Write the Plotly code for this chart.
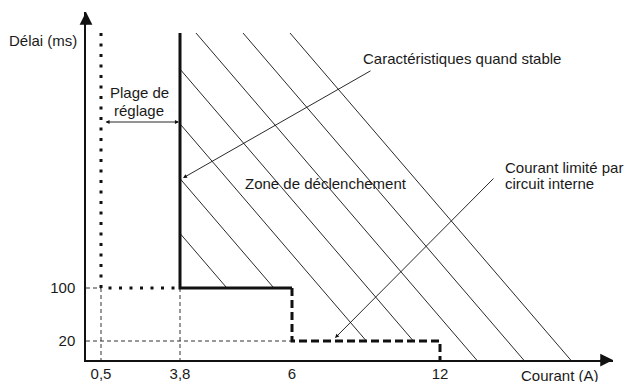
import numpy as np
import plotly.graph_objects as go

# ---------------- data (schematic values) ----------------
current_ticks = [0.5, 3.8, 6, 12]
current_labels = ["0,5", "3,8", "6", "12"]
delay_ticks = [20, 100]
delay_labels = ["20", "100"]

setting_min = 0.5        # bottom of "plage de réglage"
setting_current = 3.8    # current setting
limit_current = 6        # start of current limitation
limit_max_current = 12   # end of limited zone
trip_delay = 100         # ms
limit_delay = 20         # ms
delay_top = 1000         # schematic "long" delay (top of curves)

# ---------------- schematic (non-linear) scales ----------------
W, H = 624, 382
L, R, T, B = 86, 613, 12, 360   # plot area in pixels
X_DOM = [0, 0.5, 3.8, 6, 12, 20]
X_PIX = [86, 101, 180, 292, 440, 613]
Y_DOM = [0, 20, 100, 1000]
Y_PIX = [360, 341, 288, 33]


def sx(v):
    return float(np.interp(v, X_DOM, X_PIX))


def sy(v):
    return float(np.interp(v, Y_DOM, Y_PIX))


def fx(px):
    return (px - L) / (R - L)


def fy(py):
    return (B - py) / (B - T)


fig = go.Figure()

# ---------------- hatching of the trip zone ----------------
hatch_spacing = 47
hatch_slope = 1.165
hatch_first = 8
hatch_count = 7
top_y = sy(delay_top)
floor = [(sx(setting_current), sx(limit_current), sy(trip_delay)),
         (sx(limit_current), sx(limit_max_current), sy(limit_delay)),
         (sx(limit_max_current), 1e9, sy(0))]
hx, hy = [], []
for k in range(hatch_count):
    x0 = hatch_first + k * hatch_spacing
    xs = max(x0, sx(setting_current))
    ys = top_y + (xs - x0) * hatch_slope
    xe = ye = None
    for xa, xb, yf in floor:
        xh = x0 + (yf - top_y) / hatch_slope
        if xa <= xh < xb and xh >= xs:
            xe, ye = xh, yf
            break
    hx += [xs, xe, None]
    hy += [ys, ye, None]
fig.add_trace(go.Scatter(x=hx, y=hy, mode="lines",
                         line=dict(color="#111", width=0.9), hoverinfo="skip"))

# ---------------- thin dashed guides ----------------
gx = [sx(setting_min), sx(setting_min), None,
      sx(setting_current), sx(setting_current), None,
      sx(0), sx(setting_min), None,
      sx(0), sx(limit_current)]
gy = [sy(trip_delay), sy(0), None,
      sy(trip_delay), sy(0), None,
      sy(trip_delay), sy(trip_delay), None,
      sy(limit_delay), sy(limit_delay)]
fig.add_trace(go.Scatter(x=gx, y=gy, mode="lines",
                         line=dict(color="#333", width=1, dash="4px,3px"), hoverinfo="skip"))

# ---------------- dotted setting range ----------------
fig.add_trace(go.Scatter(
    x=[sx(setting_min), sx(setting_min), sx(setting_current)],
    y=[sy(delay_top), sy(trip_delay), sy(trip_delay)],
    mode="lines", line=dict(color="#111", width=3, dash="3px,7.5px"), hoverinfo="skip"))

# ---------------- stable characteristic (thick solid) ----------------
fig.add_trace(go.Scatter(
    x=[sx(setting_current), sx(setting_current), sx(limit_current)],
    y=[sy(delay_top), sy(trip_delay), sy(trip_delay)],
    mode="lines", line=dict(color="#111", width=3), hoverinfo="skip"))

# ---------------- limited current (thick dashed) ----------------
fig.add_trace(go.Scatter(
    x=[sx(limit_current), sx(limit_current), sx(limit_max_current), sx(limit_max_current)],
    y=[sy(trip_delay), sy(limit_delay), sy(limit_delay), sy(0)],
    mode="lines", line=dict(color="#111", width=3, dash="8px,4px"), hoverinfo="skip"))

font = dict(family="Liberation Sans, Arial, sans-serif", size=15, color="#1a1a1a")


def text(px, py, s, xanchor="center"):
    fig.add_annotation(x=fx(px), y=fy(py), xref="paper", yref="paper", text=s,
                       showarrow=False, xanchor=xanchor, yanchor="middle", font=font)


def arrow(tipx, tipy, tailx, taily, both=False, size=0.9, width=0.9):
    fig.add_annotation(x=fx(tipx), y=fy(tipy), xref="paper", yref="paper", text="",
                       ax=tailx - tipx, ay=taily - tipy, showarrow=True,
                       arrowhead=2, arrowsize=size, arrowwidth=width, arrowcolor="#111",
                       arrowside="end+start" if both else "end",
                       startarrowhead=2, startarrowsize=size)


text(79, 40, "Délai (ms)", "right")
text(139, 93, "Plage de")
text(139, 110, "réglage")
text(462, 58, "Caractéristiques quand stable")
text(326, 183, "Zone de déclenchement")
text(503, 167, "Courant limité par", "left")
text(503, 184, "circuit interne", "left")
text(560, 375, "Courant (A)")

arrow(179, 122, 104, 122, both=True)
arrow(183, 178, 372, 70)
arrow(335, 338, 495, 177)
# axis arrowheads
arrow(86, 12, 86, 26, size=1.7, width=1.5)
arrow(613, 360, 599, 360, size=1.7, width=1.5)

fig.update_layout(
    width=W, height=H, margin=dict(l=L, r=W - R, t=T, b=H - B),
    paper_bgcolor="white", plot_bgcolor="white", showlegend=False,
    xaxis=dict(range=[L, R], showgrid=False, zeroline=False, showline=True,
               linecolor="#111", linewidth=1.5, ticks="", automargin=False,
               tickmode="array",
               tickvals=[sx(v) for v in current_ticks], ticktext=current_labels,
               tickfont=font, ticklabelstandoff=-1),
    yaxis=dict(range=[B, T], showgrid=False, zeroline=False, showline=True,
               linecolor="#111", linewidth=1.5, ticks="", automargin=False,
               tickmode="array",
               tickvals=[sy(v) for v in delay_ticks], ticktext=delay_labels,
               tickfont=font, ticklabelstandoff=6),
)

fig.write_html("out.html", config={"displayModeBar": False},
               post_script="document.body.style.margin='0px';document.body.style.overflow='hidden';")
